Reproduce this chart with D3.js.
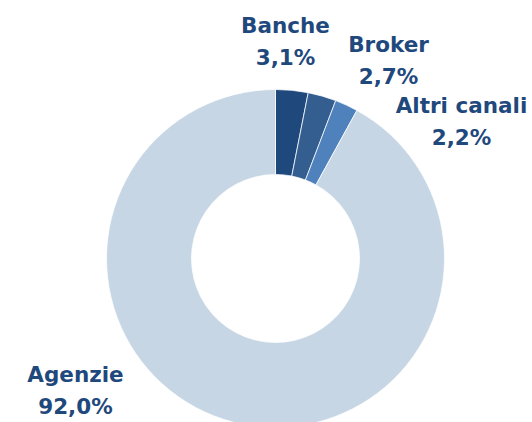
<!DOCTYPE html>
<html>
<head>
<meta charset="utf-8">
<script src="https://cdn.jsdelivr.net/npm/d3@7"></script>
<style>
  body { margin: 0; background: #fff; }
  svg { display: block; }
  .lbl { font-family: "DejaVu Sans", sans-serif; font-weight: bold; font-size: 21.5px; fill: #1f497d; }
</style>
</head>
<body>
<svg></svg>
<script>
// data
const channels = ['Banche', 'Broker', 'Altri canali', 'Agenzie'];
const shares = [3.1, 2.7, 2.2, 92.0];
const colors = ['#1f497d', '#345e8f', '#4f81bd', '#c6d6e4'];

let width = 532;
let height = 422;
let cx = 275.5;
let cy = 258.5;
let outerR = 169;
let innerR = 84;

// where each label sits, relative to the chart centre (Excel moves them around)
const labelAt = [[10, -226], [113, -207], [186, -146], [-200, 123]];

const svg = d3.select('svg').attr('width', width).attr('height', height);

const pie = d3.pie().sort(null).value((d) => d)(shares);
const arc = d3.arc().innerRadius(innerR).outerRadius(outerR);
const color = d3.scaleOrdinal().domain(channels).range(colors);
const fmt = (v) => d3.format('.1f')(v).replace('.', ',') + '%';

const g = svg.append('g').attr('transform', 'translate(' + cx + ',' + cy + ')');

g.selectAll('path').data(pie).enter().append('path')
  .attr('d', arc)
  .attr('fill', (d, i) => color(channels[i]))
  .attr('stroke', '#fff')
  .attr('stroke-width', 0.75);

const labels = g.selectAll('text').data(pie).enter().append('text')
  .attr('class', 'lbl')
  .attr('text-anchor', 'middle')
  .attr('transform', (d, i) => 'translate(' + labelAt[i][0] + ',' + labelAt[i][1] + ')');

labels.append('tspan').attr('x', 0).attr('dy', 0).text((d, i) => channels[i]);
labels.append('tspan').attr('x', 0).attr('dy', 32).text((d) => fmt(d.data));
</script>
</body>
</html>
